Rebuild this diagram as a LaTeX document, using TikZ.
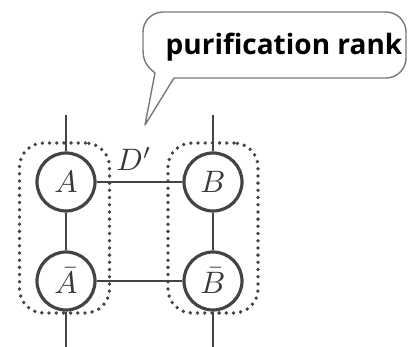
\documentclass[tikz,border=0pt]{standalone}
\usepackage{fontspec}
\usepackage{graphicx}
\newfontfamily\bubblefont{Open Sans}
\definecolor{ink}{RGB}{68,68,68}
\definecolor{bubgray}{RGB}{120,120,120}
\newcommand{\tensorlabel}[1]{\scalebox{3.1}{$#1$}}
\tikzset{
  tensor/.style={circle, draw=ink, line width=3.2pt, minimum size=58pt, inner sep=0pt,
    text=ink!85!black},
  wire/.style={draw=ink, line width=2.8pt},
  groupbox/.style={draw=ink, line width=3.8pt, dash pattern=on 0pt off 7.2pt, line cap=round,
    rounded corners=24pt, minimum width=90pt, minimum height=170pt, inner sep=0pt},
  bubble/.style={draw=bubgray, line width=1.4pt, line join=round},
}
\begin{document}
\begin{tikzpicture}[x=1pt,y=-1pt]
\useasboundingbox (0,0) rectangle (408,347);
% groups
\node[groupbox] (gL) at (64.5,228) {};
\node[groupbox] (gR) at (213,228) {};
% tensors
\node[tensor] (A) at (66,182) {\tensorlabel{A}};
\node[tensor] (Ab) at (66,281) {\tensorlabel{\bar A}};
\node[tensor] (B) at (213,182) {\tensorlabel{B}};
\node[tensor] (Bb) at (213,281) {\tensorlabel{\bar B}};
% free ends
\coordinate (Atop) at (66,115);
\coordinate (Btop) at (213,115);
\coordinate (Abot) at (66,347);
\coordinate (Bbot) at (213,347);
% wires
\draw[wire] (Atop) -- (A);
\draw[wire] (Btop) -- (B);
\draw[wire] (A) -- (Ab);
\draw[wire] (B) -- (Bb);
\draw[wire] (Ab) -- (Abot);
\draw[wire] (Bb) -- (Bbot);
\draw[wire] (A.east) -- (B.west);
\draw[wire] (Ab.east) -- (Bb.west);
% label
\node[text=ink!85!black] (Dp) at (134,159) {\tensorlabel{D'}};
% speech bubble
\draw[bubble] (145,125) -- (174,78) [rounded corners=20pt] -- (406,78) -- (406,12) -- (143,12) [sharp corners] -- (143,50)
  .. controls (143,63) and (149,68) .. (155,73) -- cycle;
\node[font=\bubblefont\bfseries\fontsize{28}{32}\selectfont, text=black] (lbl) at (284,47) {purification rank};
\end{tikzpicture}
\end{document}
